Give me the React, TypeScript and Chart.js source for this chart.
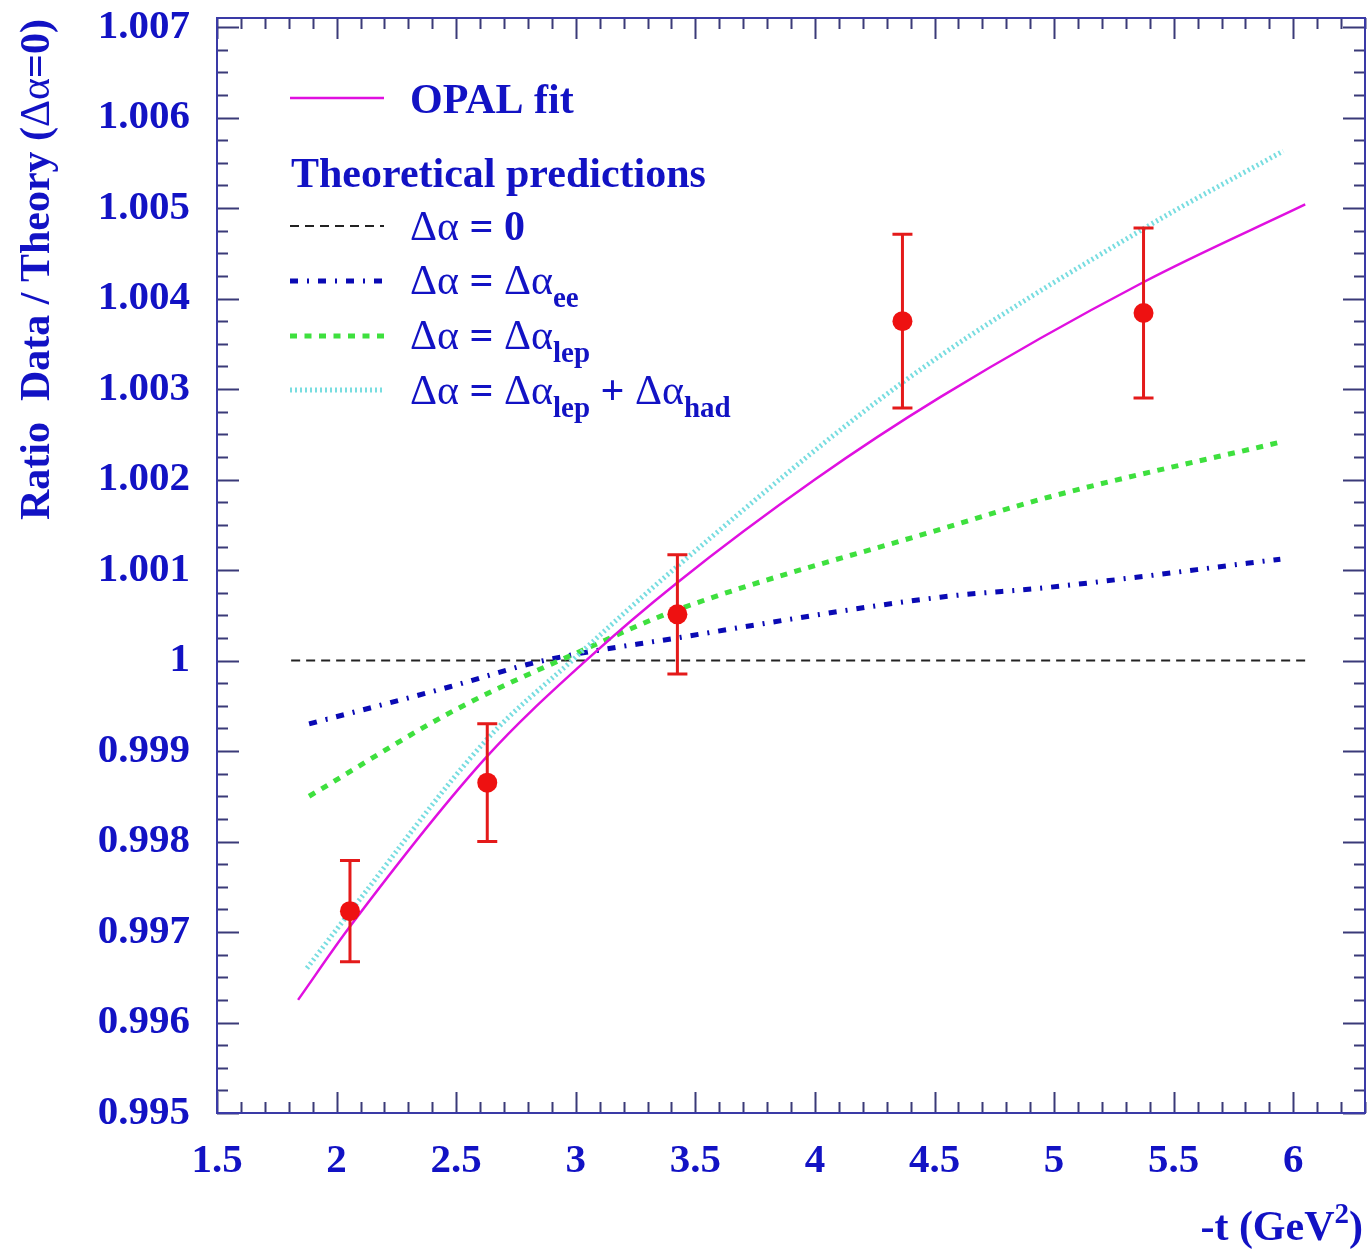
import React, { useEffect, useRef } from 'react';
import { Chart, registerables } from 'chart.js';
Chart.register(...registerables);

const W = 1367;
const H = 1249;

// axis ticks
const xTicks = [1.5, 2, 2.5, 3, 3.5, 4, 4.5, 5, 5.5, 6];
const xTickLabels = ['1.5', '2', '2.5', '3', '3.5', '4', '4.5', '5', '5.5', '6'];
const yTicks = [0.995, 0.996, 0.997, 0.998, 0.999, 1.0, 1.001, 1.002, 1.003, 1.004, 1.005, 1.006, 1.007];
const yTickLabels = ['0.995', '0.996', '0.997', '0.998', '0.999', '1', '1.001', '1.002', '1.003', '1.004', '1.005', '1.006', '1.007'];

// measured data
const dataT = [2.056, 2.63, 3.425, 4.366, 5.374];
const dataRatio = [0.99723, 0.99865, 1.00051, 1.00375, 1.00384];
const dataErr = [0.00056, 0.00065, 0.00066, 0.00096, 0.00094];

// OPAL fit
const opalT = [1.839, 2.056, 2.629, 3.047, 3.424, 4.0, 4.524, 5.373, 6.05];
const opalY = [0.99625, 0.99706, 0.99894, 1.00001, 1.00086, 1.002, 1.00291, 1.00418, 1.00504];

// Δα = 0
const zeroT = [1.81, 6.07];
const zeroY = [1.0, 1.0];

// Δα = Δα_ee
const eeT = [1.885, 2.474, 2.85, 3.424, 4.524, 4.984, 5.946];
const eeY = [0.9993, 0.99971, 0.99999, 1.00025, 1.0007, 1.00081, 1.00112];

// Δα = Δα_lep
const lepT = [1.885, 2.5, 3.06, 3.424, 4.524, 4.984, 5.958];
const lepY = [0.9985, 0.99946, 1.00015, 1.00056, 1.00145, 1.00181, 1.00242];

// Δα = Δα_lep + Δα_had
const hadT = [1.876, 2.056, 2.629, 2.989, 3.424, 4.386, 5.373, 5.958];
const hadY = [0.9966, 0.99722, 0.99913, 1.00001, 1.00104, 1.00311, 1.00477, 1.00563];

const TEXT = '#1212c4';
const FAMILY = '"Liberation Serif", "Times New Roman", serif';
const BOLD = (s: number) => `bold ${s}px ${FAMILY}`;
const NORM = (s: number) => `${s}px ${FAMILY}`;
const FS = 42;

const STY = {
  opal: { color: '#e010e0', width: 2.5, dash: [] as number[] },
  zero: { color: '#222222', width: 2.2, dash: [9, 6] },
  ee: { color: '#0a0ab4', width: 5, dash: [8, 9, 2, 9] },
  lep: { color: '#3ee03e', width: 5, dash: [7, 7.5] },
  had: { color: '#78dde0', width: 5, dash: [2, 3] },
};

const pts = (xs: number[], ys: number[]) => xs.map((x, i) => ({ x, y: ys[i] }));

type Seg = { t: string; font: string; dy?: number };
function segW(ctx: CanvasRenderingContext2D, segs: Seg[]) {
  let w = 0;
  for (const s of segs) {
    ctx.font = s.font;
    w += ctx.measureText(s.t).width;
  }
  return w;
}
function drawSegs(ctx: CanvasRenderingContext2D, x: number, y: number, segs: Seg[]) {
  let cx = x;
  for (const s of segs) {
    ctx.font = s.font;
    ctx.fillText(s.t, cx, y + (s.dy || 0));
    cx += ctx.measureText(s.t).width;
  }
  return cx;
}

const decor = {
  id: 'decor',
  beforeDatasetDraw(chart: any, args: any) {
    if (args.index !== 0) return;
    const { ctx } = chart;
    const xs = chart.scales.x;
    const ys = chart.scales.y;
    ctx.save();
    ctx.strokeStyle = '#e41a1a';
    ctx.lineWidth = 3;
    dataT.forEach((t, i) => {
      const px = xs.getPixelForValue(t);
      const top = ys.getPixelForValue(dataRatio[i] + dataErr[i]);
      const bot = ys.getPixelForValue(dataRatio[i] - dataErr[i]);
      ctx.beginPath();
      ctx.moveTo(px, top);
      ctx.lineTo(px, bot);
      ctx.moveTo(px - 10, top);
      ctx.lineTo(px + 10, top);
      ctx.moveTo(px - 10, bot);
      ctx.lineTo(px + 10, bot);
      ctx.stroke();
    });
    ctx.restore();
  },
  afterDraw(chart: any) {
    const { ctx, chartArea: a } = chart;
    const xs = chart.scales.x;
    const ys = chart.scales.y;
    ctx.save();
    // ticks
    ctx.strokeStyle = '#3a3a78';
    ctx.lineWidth = 2;
    ctx.beginPath();
    const xMin = xs.min, xMax = xs.max;
    for (let i = 0; ; i++) {
      const v = xMin + i * 0.1;
      if (v > xMax + 1e-9) break;
      const major = Math.abs(v * 2 - Math.round(v * 2)) < 1e-6;
      const len = major ? 21 : 11;
      const px = Math.round(xs.getPixelForValue(v)) + 0.5;
      ctx.moveTo(px, a.bottom);
      ctx.lineTo(px, a.bottom - len);
      ctx.moveTo(px, a.top);
      ctx.lineTo(px, a.top + len);
    }
    const yMin = ys.min, yMax = ys.max;
    for (let i = 0; ; i++) {
      const v = yMin + i * 0.00025;
      if (v > yMax + 1e-9) break;
      const major = i % 4 === 0;
      const len = major ? 22 : 11;
      const py = Math.round(ys.getPixelForValue(v)) + 0.5;
      ctx.moveTo(a.left, py);
      ctx.lineTo(a.left + len, py);
      ctx.moveTo(a.right, py);
      ctx.lineTo(a.right - len, py);
    }
    ctx.stroke();
    // frame
    ctx.strokeStyle = '#3a3aa6';
    ctx.lineWidth = 2;
    ctx.strokeRect(a.left, a.top, a.right - a.left, a.bottom - a.top);

    // legend
    ctx.fillStyle = TEXT;
    ctx.textBaseline = 'alphabetic';
    ctx.textAlign = 'left';
    const sample = (y: number, s: { color: string; width: number; dash: number[] }) => {
      ctx.save();
      ctx.strokeStyle = s.color;
      ctx.lineWidth = s.width;
      ctx.setLineDash(s.dash);
      ctx.beginPath();
      ctx.moveTo(290, y);
      ctx.lineTo(384, y);
      ctx.stroke();
      ctx.restore();
    };
    sample(98, STY.opal);
    drawSegs(ctx, 410, 113, [{ t: 'OPAL fit', font: BOLD(FS) }]);
    drawSegs(ctx, 291, 187, [{ t: 'Theoretical predictions', font: BOLD(FS) }]);
    const da = (): Seg => ({ t: 'Δα', font: NORM(FS) });
    const eq: Seg = { t: ' = ', font: BOLD(FS) };
    sample(226, STY.zero);
    drawSegs(ctx, 410, 240, [da(), eq, { t: '0', font: BOLD(FS) }]);
    sample(281, STY.ee);
    drawSegs(ctx, 410, 294, [da(), eq, da(), { t: 'ee', font: BOLD(29), dy: 13 }]);
    sample(336, STY.lep);
    drawSegs(ctx, 410, 349, [da(), eq, da(), { t: 'lep', font: BOLD(29), dy: 13 }]);
    sample(390, STY.had);
    drawSegs(ctx, 410, 404, [
      da(), eq, da(), { t: 'lep', font: BOLD(29), dy: 13 },
      { t: ' + ', font: BOLD(FS) }, da(), { t: 'had', font: BOLD(29), dy: 13 },
    ]);

    // x title
    const xt: Seg[] = [
      { t: '-t (GeV', font: BOLD(FS) },
      { t: '2', font: BOLD(29), dy: -17 },
      { t: ')', font: BOLD(FS) },
    ];
    const xw = segW(ctx, xt);
    drawSegs(ctx, 1363 - xw, 1240, xt);

    // y title
    const yt: Seg[] = [
      { t: 'Ratio  Data / Theory (', font: BOLD(FS) },
      { t: 'Δα', font: NORM(FS) },
      { t: '=0)', font: BOLD(FS) },
    ];
    ctx.save();
    ctx.translate(49, 19);
    ctx.rotate(-Math.PI / 2);
    const yw = segW(ctx, yt);
    drawSegs(ctx, -yw, 0, yt);
    ctx.restore();

    ctx.restore();
  },
};

export default function App() {
  const ref = useRef<HTMLCanvasElement | null>(null);
  useEffect(() => {
    document.body.style.margin = '0';
    const canvas = ref.current!;
    const line = (label: string, xs: number[], ys: number[], s: { color: string; width: number; dash: number[] }) => ({
      label,
      data: pts(xs, ys),
      showLine: true,
      borderColor: s.color,
      borderWidth: s.width,
      borderDash: s.dash,
      pointRadius: 0,
      cubicInterpolationMode: 'monotone' as const,
      fill: false,
    });
    const chart = new Chart(canvas, {
      type: 'scatter',
      data: {
        datasets: [
          {
            label: 'Data',
            data: pts(dataT, dataRatio),
            backgroundColor: '#ee1111',
            borderWidth: 0,
            pointRadius: 10,
            showLine: false,
          } as any,
          line('OPAL fit', opalT, opalY, STY.opal),
          line('Δα = Δα_lep + Δα_had', hadT, hadY, STY.had),
          line('Δα = Δα_lep', lepT, lepY, STY.lep),
          line('Δα = Δα_ee', eeT, eeY, STY.ee),
          line('Δα = 0', zeroT, zeroY, STY.zero),
        ],
      },
      options: {
        responsive: false,
        animation: false,
        devicePixelRatio: 1,
        layout: { autoPadding: false, padding: { left: 0, right: 2, top: 18, bottom: 0 } },
        plugins: { legend: { display: false }, tooltip: { enabled: false } },
        scales: {
          x: {
            type: 'linear',
            min: 1.5,
            max: 6.3,
            grid: { display: false, drawTicks: false },
            border: { display: false },
            afterBuildTicks: (s: any) => {
              s.ticks = xTicks.map((v) => ({ value: v }));
            },
            afterFit: (s: any) => {
              s.height = H - 1113;
              s.paddingLeft = 0;
              s.paddingRight = 0;
            },
            ticks: {
              autoSkip: false,
              maxRotation: 0,
              minRotation: 0,
              padding: 24,
              color: TEXT,
              font: { family: FAMILY, weight: 'bold', size: 41 },
              callback: (v: any) => xTickLabels[xTicks.indexOf(Number(v))] ?? '',
            },
          },
          y: {
            type: 'linear',
            min: 0.995,
            max: 1.0071,
            grid: { display: false, drawTicks: false },
            border: { display: false },
            afterBuildTicks: (s: any) => {
              s.ticks = yTicks.map((v) => ({ value: v }));
            },
            afterFit: (s: any) => {
              s.width = 217;
              s.paddingTop = 0;
              s.paddingBottom = 0;
            },
            ticks: {
              autoSkip: false,
              padding: 27,
              color: TEXT,
              font: { family: FAMILY, weight: 'bold', size: 41 },
              callback: (v: any) => {
                const i = yTicks.findIndex((t) => Math.abs(t - Number(v)) < 1e-9);
                return i >= 0 ? yTickLabels[i] : '';
              },
            },
          },
        },
      },
      plugins: [decor],
    });
    return () => chart.destroy();
  }, []);
  return (
    <div style={{ position: 'absolute', left: 0, top: 0, width: W, height: H, background: '#fff' }}>
      <canvas ref={ref} width={W} height={H} style={{ display: 'block', width: W, height: H }} />
    </div>
  );
}
